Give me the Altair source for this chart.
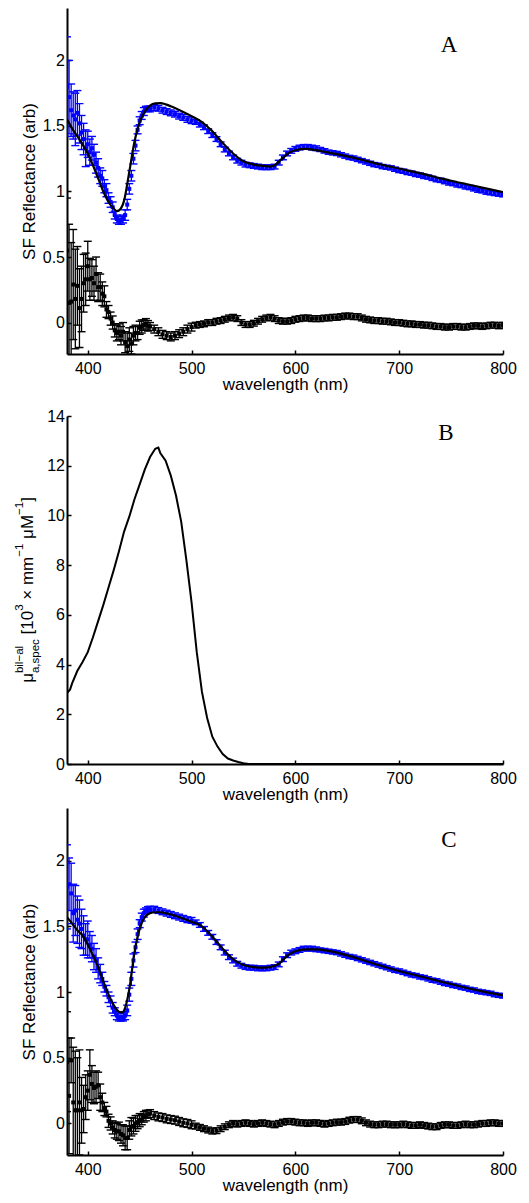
import altair as alt
import pandas as pd

# ---------------- data ----------------
X_TICKS = [400, 500, 600, 700, 800]
SF_TICKS = [0, 0.5, 1, 1.5, 2]
MU_TICKS = [0, 2, 4, 6, 8, 10, 12, 14]

# sampling grid of the measured spectra (2 nm below 460 nm, 4 nm above)
WL_FINE = list(range(380, 460, 2))
WL_COARSE = list(range(460, 801, 4))
WL = WL_FINE + WL_COARSE

# ---- panel A ----
A_DATA = [1.80, 1.72, 1.62, 1.58, 1.55, 1.60, 1.52, 1.45, 1.40, 1.33,
          1.36, 1.30, 1.33, 1.28, 1.22, 1.18, 1.12, 1.10, 1.04, 1.01,
          0.95, 0.92, 0.88, 0.82, 0.79, 0.78, 0.78, 0.79, 0.82, 0.90,
          1.02, 1.12, 1.25, 1.35, 1.47, 1.54, 1.58, 1.61, 1.63, 1.63,
          1.63, 1.64, 1.635, 1.62, 1.61, 1.60, 1.59, 1.575, 1.565, 1.55, 1.54,
          1.53, 1.51, 1.49, 1.46, 1.43, 1.40, 1.36, 1.32, 1.29, 1.26,
          1.235, 1.22, 1.205, 1.20, 1.195, 1.19, 1.185, 1.185, 1.185, 1.19,
          1.22, 1.26, 1.29, 1.31, 1.325, 1.335, 1.34, 1.34, 1.335, 1.33,
          1.32, 1.31, 1.30, 1.295, 1.29, 1.28, 1.27, 1.26, 1.255, 1.245,
          1.235, 1.225, 1.215, 1.205, 1.20, 1.19, 1.185, 1.18, 1.17, 1.16,
          1.155, 1.145, 1.14, 1.13, 1.125, 1.115, 1.11, 1.10, 1.09, 1.085,
          1.075, 1.065, 1.06, 1.05, 1.045, 1.035, 1.03, 1.02, 1.01, 1.005,
          0.995, 0.99, 0.985, 0.98, 0.975]
A_DATA_ERR = [0.38, 0.28, 0.20, 0.18, 0.20, 0.17, 0.15, 0.13, 0.12, 0.14,
              0.10, 0.10, 0.09, 0.08, 0.08, 0.07, 0.06, 0.06, 0.05, 0.05,
              0.04, 0.04, 0.04, 0.03, 0.03, 0.03, 0.03, 0.03, 0.04, 0.04,
              0.04, 0.04, 0.04, 0.04, 0.03, 0.03, 0.03, 0.03, 0.02, 0.02,
              0.022, 0.022, 0.022, 0.022, 0.022, 0.022, 0.022, 0.022, 0.022, 0.022, 0.022,
              0.018, 0.018, 0.018, 0.018, 0.018, 0.018, 0.018, 0.018, 0.018, 0.018,
              0.018, 0.018, 0.018, 0.018, 0.018, 0.018, 0.018, 0.018, 0.018, 0.018,
              0.018, 0.018, 0.018, 0.018, 0.018, 0.018, 0.018, 0.018, 0.018, 0.018,
              0.016, 0.016, 0.016, 0.016, 0.016, 0.016, 0.016, 0.016, 0.016, 0.016,
              0.016, 0.016, 0.016, 0.016, 0.016, 0.016, 0.016, 0.016, 0.016, 0.016,
              0.016, 0.016, 0.016, 0.016, 0.016, 0.016, 0.016, 0.016, 0.016, 0.016,
              0.016, 0.016, 0.016, 0.016, 0.016, 0.016, 0.016, 0.016, 0.016, 0.016,
              0.016, 0.016, 0.016, 0.016, 0.016]
A_RES = [0.55, 0.15, 0.16, 0.29, 0.18, 0.28, 0.11, 0.18, 0.30, 0.33,
         0.43, 0.33, 0.34, 0.30, 0.37, 0.27, 0.27, 0.22, 0.20, 0.10,
         0.08, 0.03, 0.00, -0.06, -0.08, -0.07, -0.10, -0.07, -0.15, -0.18,
         -0.13, -0.16, -0.10, -0.08, -0.08, -0.04, -0.03, -0.02, -0.01, -0.025,
         -0.03, -0.05, -0.07, -0.09, -0.10, -0.11, -0.10, -0.085, -0.07, -0.05, -0.035,
         -0.02, -0.015, -0.01, 0.0, 0.0, 0.01, 0.015, 0.025, 0.035, 0.04,
         0.03, 0.0, -0.015, -0.015, -0.005, 0.01, 0.025, 0.035, 0.04, 0.03,
         0.015, 0.01, 0.01, 0.015, 0.025, 0.03, 0.035, 0.035, 0.03, 0.03,
         0.03, 0.035, 0.035, 0.04, 0.04, 0.045, 0.05, 0.05, 0.045, 0.045,
         0.035, 0.025, 0.02, 0.015, 0.015, 0.01, 0.01, 0.005, 0.0, 0.0,
         -0.005, -0.01, -0.01, -0.015, -0.015, -0.02, -0.02, -0.025, -0.03, -0.03,
         -0.035, -0.035, -0.03, -0.03, -0.035, -0.035, -0.03, -0.025, -0.025, -0.03,
         -0.025, -0.02, -0.02, -0.025, -0.02]
A_RES_ERR = [0.40, 0.60, 0.45, 0.42, 0.38, 0.30, 0.30, 0.25, 0.22, 0.20,
             0.19, 0.16, 0.14, 0.13, 0.13, 0.11, 0.10, 0.09, 0.08, 0.06,
             0.05, 0.05, 0.05, 0.05, 0.06, 0.06, 0.07, 0.07, 0.08, 0.10,
             0.09, 0.08, 0.07, 0.06, 0.05, 0.05, 0.05, 0.04, 0.04, 0.04,
             0.03, 0.03, 0.03, 0.03, 0.03, 0.03, 0.03, 0.03, 0.03, 0.03, 0.03,
             0.022, 0.022, 0.022, 0.022, 0.022, 0.022, 0.022, 0.022, 0.022, 0.022,
             0.022, 0.022, 0.022, 0.022, 0.022, 0.022, 0.022, 0.022, 0.022, 0.022,
             0.022, 0.022, 0.022, 0.022, 0.022, 0.022, 0.022, 0.022, 0.022, 0.022,
             0.022, 0.022, 0.022, 0.022, 0.022, 0.022, 0.022, 0.022, 0.022, 0.022,
             0.022, 0.022, 0.022, 0.022, 0.022, 0.022, 0.022, 0.022, 0.022, 0.022,
             0.022, 0.022, 0.022, 0.022, 0.022, 0.022, 0.022, 0.022, 0.022, 0.022,
             0.022, 0.022, 0.022, 0.022, 0.022, 0.022, 0.022, 0.022, 0.022, 0.022,
             0.022, 0.022, 0.022, 0.022, 0.022]
A_FIT_WL = [380, 385, 390, 395, 400, 405, 410, 415, 420, 425, 428, 430, 435,
            440, 445, 450, 455, 460, 465, 470, 475, 480, 490, 500, 510, 520,
            530, 540, 550, 560, 570, 575, 580, 585, 590, 595, 600, 610, 620,
            630, 640, 660, 680, 700, 720, 740, 760, 780, 800]
A_FIT = [1.55, 1.48, 1.42, 1.36, 1.29, 1.20, 1.10, 1.00, 0.92, 0.87, 0.85, 0.855, 0.93,
         1.15, 1.38, 1.53, 1.61, 1.655, 1.672, 1.674, 1.665, 1.65, 1.615, 1.575, 1.53, 1.46,
         1.37, 1.29, 1.23, 1.205, 1.195, 1.19, 1.20, 1.235, 1.27, 1.30, 1.315, 1.325, 1.315,
         1.30, 1.285, 1.25, 1.21, 1.175, 1.14, 1.10, 1.065, 1.03, 0.995]

# ---- panel B ----
B_WL = [380, 383, 385, 390, 395, 400, 405, 410, 415, 420, 425, 430, 435, 440,
        445, 450, 455, 460, 465, 468, 470, 475, 480, 485, 490, 495, 500, 505,
        510, 515, 520, 525, 530, 535, 540, 545, 550, 555, 800]
B_MU = [2.85, 3.0, 3.25, 3.75, 4.1, 4.5, 5.1, 5.75, 6.4, 7.1, 7.8, 8.55, 9.35, 9.95,
        10.65, 11.25, 11.85, 12.35, 12.68, 12.73, 12.5, 12.2, 11.6, 10.8, 9.75, 8.2, 6.5, 4.5,
        2.9, 1.85, 1.1, 0.7, 0.4, 0.22, 0.14, 0.08, 0.03, 0.0, 0.0]

# ---- panel C ----
C_DATA = [1.80, 1.82, 1.75, 1.60, 1.62, 1.55, 1.52, 1.48, 1.43, 1.40,
          1.40, 1.36, 1.33, 1.27, 1.24, 1.18, 1.14, 1.10, 1.04, 1.01,
          0.96, 0.93, 0.88, 0.85, 0.82, 0.81, 0.81, 0.81, 0.82, 0.86,
          0.98, 1.10, 1.24, 1.34, 1.44, 1.52, 1.57, 1.60, 1.62, 1.63,
          1.63, 1.63, 1.62, 1.61, 1.60, 1.59, 1.58, 1.57, 1.56, 1.55, 1.545,
          1.53, 1.51, 1.48, 1.45, 1.42, 1.38, 1.34, 1.30, 1.265, 1.24,
          1.215, 1.20, 1.19, 1.185, 1.185, 1.18, 1.18, 1.18, 1.185, 1.19,
          1.21, 1.25, 1.28, 1.30, 1.31, 1.32, 1.33, 1.33, 1.33, 1.325,
          1.32, 1.315, 1.31, 1.305, 1.30, 1.29, 1.28, 1.27, 1.265, 1.255,
          1.245, 1.235, 1.225, 1.215, 1.205, 1.195, 1.185, 1.175, 1.165, 1.16,
          1.15, 1.14, 1.13, 1.125, 1.115, 1.11, 1.10, 1.09, 1.085, 1.075,
          1.065, 1.06, 1.05, 1.045, 1.035, 1.03, 1.02, 1.015, 1.005, 1.0,
          0.995, 0.99, 0.98, 0.975, 0.97]
C_DATA_ERR = [0.32, 0.20, 0.23, 0.22, 0.19, 0.18, 0.18, 0.15, 0.15, 0.12,
              0.14, 0.10, 0.10, 0.10, 0.09, 0.08, 0.07, 0.05, 0.04, 0.04,
              0.04, 0.04, 0.04, 0.03, 0.03, 0.03, 0.03, 0.03, 0.03, 0.04,
              0.05, 0.05, 0.05, 0.04, 0.04, 0.03, 0.03, 0.03, 0.02, 0.02,
              0.022, 0.022, 0.022, 0.022, 0.022, 0.022, 0.022, 0.022, 0.022, 0.022, 0.022,
              0.018, 0.018, 0.018, 0.018, 0.018, 0.018, 0.018, 0.018, 0.018, 0.018,
              0.018, 0.018, 0.018, 0.018, 0.018, 0.018, 0.018, 0.018, 0.018, 0.018,
              0.018, 0.018, 0.018, 0.018, 0.018, 0.018, 0.018, 0.018, 0.018, 0.018,
              0.016, 0.016, 0.016, 0.016, 0.016, 0.016, 0.016, 0.016, 0.016, 0.016,
              0.016, 0.016, 0.016, 0.016, 0.016, 0.016, 0.016, 0.016, 0.016, 0.016,
              0.016, 0.016, 0.016, 0.016, 0.016, 0.016, 0.016, 0.016, 0.016, 0.016,
              0.016, 0.016, 0.016, 0.016, 0.016, 0.016, 0.016, 0.016, 0.016, 0.016,
              0.016, 0.016, 0.016, 0.016, 0.016]
C_RES = [0.47, 0.21, 0.48, 0.16, 0.10, 0.10, 0.16, 0.10, 0.11, 0.20,
         0.25, 0.37, 0.30, 0.27, 0.28, 0.29, 0.20, 0.16, 0.11, 0.09,
         0.02, 0.00, -0.03, -0.05, -0.06, -0.06, -0.08, -0.09, -0.11, -0.11,
         -0.05, -0.025, -0.02, 0.0, 0.01, 0.025, 0.03, 0.05, 0.06, 0.07,
         0.075, 0.06, 0.05, 0.045, 0.035, 0.03, 0.025, 0.015, 0.005, 0.0, -0.01,
         -0.02, -0.03, -0.04, -0.05, -0.058, -0.055, -0.04, -0.025, -0.01, 0.0,
         -0.005, 0.0, 0.005, 0.0, -0.005, 0.0, 0.005, 0.0, -0.005, -0.01,
         0.0, 0.01, 0.015, 0.015, 0.01, 0.005, 0.005, 0.0, 0.005, 0.005,
         0.0, -0.005, 0.0, 0.005, 0.01, 0.01, 0.015, 0.025, 0.03, 0.03,
         0.02, 0.005, -0.005, -0.01, -0.01, -0.005, -0.005, -0.01, -0.01, -0.01,
         -0.005, -0.01, -0.015, -0.015, -0.01, -0.015, -0.02, -0.025, -0.025, -0.015,
         -0.01, -0.01, -0.015, -0.015, -0.01, -0.005, -0.01, -0.01, -0.005, 0.0,
         0.0, 0.005, 0.005, 0.0, 0.0]
C_RES_ERR = [0.38, 0.44, 0.17, 0.42, 0.45, 0.40, 0.40, 0.25, 0.18, 0.17,
             0.15, 0.19, 0.14, 0.12, 0.12, 0.10, 0.10, 0.07, 0.05, 0.04,
             0.05, 0.05, 0.05, 0.06, 0.06, 0.07, 0.07, 0.08, 0.09, 0.09,
             0.07, 0.07, 0.06, 0.06, 0.05, 0.05, 0.04, 0.04, 0.04, 0.03,
             0.03, 0.03, 0.03, 0.03, 0.03, 0.03, 0.03, 0.03, 0.03, 0.03, 0.03,
             0.022, 0.022, 0.022, 0.022, 0.022, 0.022, 0.022, 0.022, 0.022, 0.022,
             0.022, 0.022, 0.022, 0.022, 0.022, 0.022, 0.022, 0.022, 0.022, 0.022,
             0.022, 0.022, 0.022, 0.022, 0.022, 0.022, 0.022, 0.022, 0.022, 0.022,
             0.022, 0.022, 0.022, 0.022, 0.022, 0.022, 0.022, 0.022, 0.022, 0.022,
             0.022, 0.022, 0.022, 0.022, 0.022, 0.022, 0.022, 0.022, 0.022, 0.022,
             0.022, 0.022, 0.022, 0.022, 0.022, 0.022, 0.022, 0.022, 0.022, 0.022,
             0.022, 0.022, 0.022, 0.022, 0.022, 0.022, 0.022, 0.022, 0.022, 0.022,
             0.022, 0.022, 0.022, 0.022, 0.022]
C_FIT_WL = [380, 385, 390, 395, 400, 405, 410, 415, 420, 425, 430, 433, 436,
            440, 445, 450, 455, 460, 465, 470, 480, 490, 500, 510, 520, 530,
            540, 550, 560, 570, 580, 585, 590, 595, 600, 610, 620, 640, 660,
            680, 700, 720, 740, 760, 780, 800]
C_FIT = [1.57, 1.52, 1.47, 1.43, 1.36, 1.28, 1.19, 1.08, 0.98, 0.90, 0.85, 0.845, 0.88,
         1.02, 1.30, 1.48, 1.57, 1.60, 1.607, 1.607, 1.59, 1.565, 1.535, 1.50, 1.42, 1.33,
         1.25, 1.205, 1.19, 1.185, 1.20, 1.22, 1.26, 1.29, 1.31, 1.325, 1.325, 1.30, 1.255,
         1.205, 1.16, 1.12, 1.08, 1.04, 1.005, 0.975]

PANEL_LETTERS = ["A", "B", "C"]
LETTER_WL = [748, 745, 748]
LETTER_VAL = [2.12, 13.3, 2.16]

# ---------------- styling ----------------
FONT = "Liberation Sans"
SERIF = "Liberation Serif"
BLUE = "#0000ff"
PLOT_W = 436

X_SCALE = alt.Scale(domain=[380, 800], nice=False, zero=False)
X_AXIS = alt.Axis(values=X_TICKS, format="d", title="wavelength (nm)")


def xenc():
    return alt.X("wl:Q", scale=X_SCALE, axis=X_AXIS)


def errorbar_layers(wl, val, err, color, yscale, yaxis):
    df = pd.DataFrame({"wl": wl, "v": val, "e": err})
    df["lo"] = df["v"] - df["e"]
    df["hi"] = df["v"] + df["e"]
    base = alt.Chart(df)
    bars = base.mark_rule(color=color, strokeWidth=1.3, clip=True).encode(
        x=xenc(), y=alt.Y("lo:Q", scale=yscale, axis=yaxis), y2="hi:Q")
    cap_lo = base.mark_tick(orient="horizontal", size=8, thickness=1.4,
                            color=color, opacity=1, clip=True).encode(
        x=xenc(), y=alt.Y("lo:Q", scale=yscale, axis=yaxis))
    cap_hi = base.mark_tick(orient="horizontal", size=8, thickness=1.4,
                            color=color, opacity=1, clip=True).encode(
        x=xenc(), y=alt.Y("hi:Q", scale=yscale, axis=yaxis))
    pts = base.mark_point(shape="square", filled=True, size=16, color=color,
                          opacity=1, clip=True).encode(
        x=xenc(), y=alt.Y("v:Q", scale=yscale, axis=yaxis))
    return [bars, cap_lo, cap_hi, pts]


def letter_layer(i, yscale, yaxis):
    df = pd.DataFrame({"wl": [LETTER_WL[i]], "v": [LETTER_VAL[i]], "t": [PANEL_LETTERS[i]]})
    return alt.Chart(df).mark_text(font=SERIF, fontSize=23, color="black",
                                   align="center", baseline="middle").encode(
        x=xenc(), y=alt.Y("v:Q", scale=yscale, axis=yaxis), text="t:N")


def reflectance_panel(data, derr, res, rerr, fit_wl, fit, idx, height):
    yscale = alt.Scale(domain=[-0.24, 2.4], nice=False, zero=False)
    yaxis = alt.Axis(values=SF_TICKS, format="~g", title="SF Reflectance (arb)")
    layers = errorbar_layers(WL, data, derr, BLUE, yscale, yaxis)
    layers += errorbar_layers(WL, res, rerr, "black", yscale, yaxis)
    fit_line = alt.Chart(pd.DataFrame({"wl": fit_wl, "v": fit})).mark_line(
        color="black", strokeWidth=2.2, interpolate="monotone", clip=True).encode(
        x=xenc(), y=alt.Y("v:Q", scale=yscale, axis=yaxis))
    layers += [fit_line, letter_layer(idx, yscale, yaxis)]
    return alt.layer(*layers).properties(width=PLOT_W, height=height)


# Arial / Liberation Sans advance widths (per 1000 em) for the composed y title
AW = {" ": 278, "[": 278, "]": 278, "0": 556, "1": 556, "3": 556, "\u00d7": 584,
      "m": 833, "M": 833, "\u03bc": 576, "\u2212": 584, "b": 556, "i": 222,
      "l": 222, "a": 556, ",": 278, "s": 500, "p": 556, "e": 556, "c": 500}


def tw(s, size):
    return sum(AW[c] for c in s) * size / 1000.0


def mu_title_layers(height):
    main, small = 17, 11.5
    base_x, sup_x, sub_x = -34, -44.5, -28
    seq = [
        ("\u03bc", main, "base"),
        (("bil\u2212al", "a,spec"), small, "pair"),
        (" [10", main, "base"),
        ("3", small, "sup"),
        (" \u00d7 mm", main, "base"),
        ("\u22121", small, "sup"),
        (" \u03bcM", main, "base"),
        ("\u22121", small, "sup"),
        ("]", main, "base"),
    ]
    total = 0.0
    for t, s, r in seq:
        total += max(tw(t[0], s), tw(t[1], s)) if r == "pair" else tw(t, s)
    start = height / 2.0 + total / 2.0
    one = pd.DataFrame({"k": [0]})
    out = []
    off = 0.0
    for t, s, r in seq:
        if r == "pair":
            for txt, px in ((t[0], sup_x), (t[1], sub_x)):
                out.append(alt.Chart(one).mark_text(
                    text=txt, font=FONT, fontSize=s, color="black", angle=270,
                    align="left", baseline="alphabetic", x=px, y=start - off
                ).encode(opacity=alt.value(1)))
            off += max(tw(t[0], s), tw(t[1], s))
            continue
        lead = len(t) - len(t.lstrip(" "))
        off += lead * tw(" ", s)
        txt = t.strip(" ")
        px = base_x if r == "base" else sup_x
        out.append(alt.Chart(one).mark_text(
            text=txt, font=FONT, fontSize=s, color="black", angle=270,
            align="left", baseline="alphabetic", x=px, y=start - off
        ).encode(opacity=alt.value(1)))
        off += tw(txt, s)
    return out


# ---------------- panels ----------------
panelA = reflectance_panel(A_DATA, A_DATA_ERR, A_RES, A_RES_ERR, A_FIT_WL, A_FIT, 0, 346)
panelC = reflectance_panel(C_DATA, C_DATA_ERR, C_RES, C_RES_ERR, C_FIT_WL, C_FIT, 2, 347)

B_H = 348
b_yscale = alt.Scale(domain=[0, 14], nice=False, zero=False)
b_yaxis = alt.Axis(values=MU_TICKS, format="d", title=None)
lineB = alt.Chart(pd.DataFrame({"wl": B_WL, "v": B_MU})).mark_line(
    color="black", strokeWidth=2, clip=True).encode(
    x=xenc(), y=alt.Y("v:Q", scale=b_yscale, axis=b_yaxis))
panelB = alt.layer(lineB, letter_layer(1, b_yscale, b_yaxis),
                   *mu_title_layers(B_H)).properties(width=PLOT_W, height=B_H)

top = alt.vconcat(panelA, panelB, spacing=62, bounds="flush")
chart = alt.vconcat(top, panelC, spacing=6).properties(
    padding={"left": 5, "top": 0, "right": 0, "bottom": 6},
    background="white",
).configure_axis(
    grid=False,
    domainColor="black", domainWidth=2,
    tickColor="black", tickWidth=1.5, tickSize=alt.ExprRef(expr="-4"),
    labelFont=FONT, labelFontSize=16, labelColor="black",
    labelFlush=False, labelOverlap=False,
    titleFont=FONT, titleFontSize=17, titleFontWeight="normal", titleColor="black",
).configure_axisX(labelPadding=10, titlePadding=0).configure_axisY(
    labelPadding=6.5, titlePadding=4
).configure_view(strokeWidth=0)

chart.save("out.html", embed_options={"renderer": "svg", "actions": False})
